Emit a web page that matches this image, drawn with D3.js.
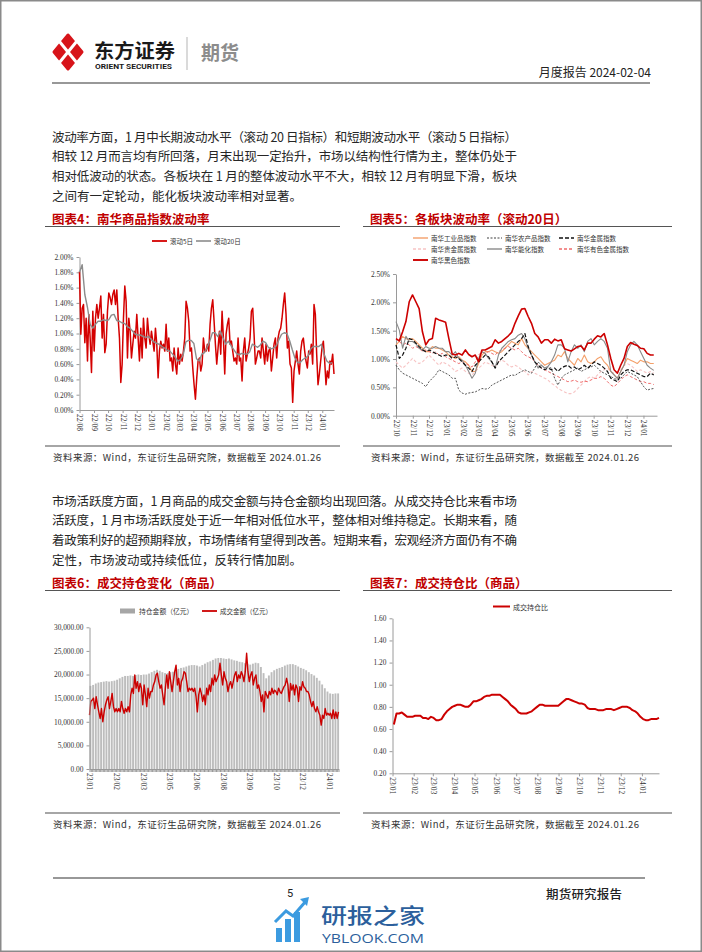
<!DOCTYPE html>
<meta charset="utf-8">
<head>
<script src="https://d3js.org/d3.v7.min.js"></script>
<style>
  body { margin: 0; background: #fff; }
  text { font-family: "Noto Sans CJK SC", sans-serif; }
  .axis text { font-family: "Liberation Serif", serif; font-size: 7.4px; fill: #333; }
  .axis path, .axis line { stroke: #9a9a9a; }
</style>
</head>
<body>
<div id="page"></div>
<script>

// ---- chart 4: 南华商品指数波动率 (%), 2022-08-01 .. 2024-01-26
var c4Start = "2022-08-01", c4End = "2024-01-26";
var vol5d = [1.81,0.99,1.33,1.38,0.88,1.20,0.64,1.25,0.94,0.49,
  1.29,0.77,1.20,1.38,1.20,1.33,1.49,0.94,1.25,0.75,
  0.86,1.29,1.53,1.47,1.38,1.51,1.57,1.38,1.57,1.20,
  0.94,0.36,0.60,1.20,1.62,1.42,0.68,1.20,1.03,0.68,
  0.86,1.03,0.94,1.25,0.94,0.64,1.07,0.68,1.20,0.94,
  0.81,1.20,0.99,0.86,1.03,0.90,0.77,1.07,0.86,0.42,
  0.77,0.90,0.81,0.86,0.77,1.12,0.77,0.94,0.64,0.68,
  0.51,0.81,0.60,0.47,0.81,0.60,0.73,0.64,0.77,0.94,
  1.42,1.33,1.16,0.77,0.81,0.55,0.33,0.14,0.42,0.64,
  0.68,0.51,0.60,0.94,0.77,0.77,0.86,0.77,1.12,1.33,
  1.44,1.16,0.86,0.60,0.81,1.03,0.73,1.29,0.94,0.47,
  0.99,1.12,1.20,0.86,0.90,0.77,0.64,0.68,0.60,0.94,
  0.64,0.68,0.38,0.77,0.94,0.64,0.73,0.81,0.94,1.29,
  1.33,0.99,0.60,0.68,0.77,0.77,0.68,0.94,0.77,0.60,
  0.86,0.64,0.77,0.81,0.51,0.68,0.86,0.94,0.68,0.94,
  1.03,1.07,1.20,1.38,1.53,1.25,0.81,0.90,0.60,0.55,
  0.10,0.51,0.64,0.77,0.60,0.47,0.77,0.90,0.94,0.77,
  0.64,0.55,0.77,0.73,0.86,0.60,1.38,1.25,0.73,0.33,
  0.47,0.64,0.81,0.90,0.64,0.33,0.51,0.42,0.64,0.60,
  0.73,0.47];
var vol20d = [1.80,1.90,1.51,1.34,1.12,1.07,1.12,1.16,1.16,1.18,
  1.17,1.18,1.24,1.25,1.17,1.16,1.14,1.13,1.09,1.07,
  1.03,0.99,0.98,0.98,0.96,0.95,0.96,0.92,0.89,0.87,
  0.86,0.83,0.81,0.78,0.77,0.73,0.69,0.64,0.66,0.72,
  0.89,0.91,0.91,0.87,0.67,0.64,0.73,0.75,0.82,0.90,
  1.01,1.01,0.96,1.03,0.94,0.86,0.90,0.84,0.79,0.74,
  0.72,0.74,0.73,0.73,0.76,0.86,0.84,0.82,0.85,0.90,
  0.88,0.82,0.80,0.81,0.84,0.92,0.99,1.01,1.00,0.91,
  0.79,0.68,0.62,0.62,0.66,0.68,0.71,0.80,0.83,0.83,
  0.83,0.86,0.73,0.64,0.61,0.62];

// ---- chart 5: 各板块波动率 (滚动20日, %), 2022-10-01 .. 2024-01-26
var c5Start = "2022-10-01", c5End = "2024-01-26";
var idxIndustrial = [1.25,1.31,1.40,1.36,1.34,1.36,1.31,1.25,1.19,1.13,
  1.13,1.22,1.19,1.19,1.16,1.13,1.07,1.04,1.01,1.04,
  0.98,0.95,0.89,0.78,0.78,0.92,1.07,1.13,1.13,1.16,
  1.13,1.10,1.13,1.19,1.25,1.31,1.28,1.25,1.36,1.25,
  1.19,1.13,1.07,1.01,0.95,0.89,0.92,0.95,0.98,1.07,
  1.04,1.13,1.01,0.95,0.89,1.01,0.95,1.07,0.95,0.92,
  0.95,1.01,1.04,0.95,0.89,0.78,0.72,0.66,0.78,0.89,
  1.01,0.98,0.95,0.92,0.98,0.95,0.95,0.92,0.92];
var idxAgri = [0.89,0.81,0.75,0.72,0.69,0.66,0.63,0.60,0.57,0.51,
  0.60,0.66,0.72,0.81,0.78,0.75,0.72,0.66,0.66,0.45,
  0.40,0.38,0.40,0.41,0.42,0.45,0.48,0.47,0.48,0.54,
  0.57,0.60,0.63,0.66,0.69,0.72,0.71,0.75,0.78,0.81,
  0.78,0.75,0.84,0.95,0.89,0.84,0.86,0.84,0.66,0.54,
  0.66,0.72,0.75,0.78,0.81,0.84,0.78,0.81,0.84,0.86,
  0.89,0.84,0.78,0.75,0.72,0.69,0.66,0.63,0.66,0.72,
  0.78,0.75,0.72,0.69,0.60,0.51,0.45,0.47,0.48];
var idxMetal = [1.25,1.01,1.07,1.19,1.36,1.34,1.28,1.22,1.16,1.13,
  1.16,1.13,1.10,1.07,1.04,1.07,1.07,1.01,1.04,1.01,
  0.95,0.89,0.84,0.78,0.89,0.95,1.01,1.07,1.04,0.95,
  0.84,0.95,1.01,1.07,1.13,1.19,1.25,1.31,1.36,1.45,
  1.22,1.07,0.95,0.89,0.84,0.81,0.84,0.81,0.84,0.78,
  0.84,0.87,0.89,0.84,0.86,0.81,0.84,0.89,0.84,0.89,
  0.95,0.92,0.89,0.84,0.78,0.66,0.63,0.60,0.72,0.78,
  0.81,0.81,0.78,0.75,0.72,0.69,0.69,0.75,0.72];
var idxPrecious = [0.95,0.89,0.84,0.89,0.95,1.01,0.95,0.92,0.95,1.01,
  1.07,1.01,0.95,0.89,0.95,0.92,0.89,0.84,0.78,0.81,
  0.84,0.78,0.75,0.72,0.78,0.84,0.89,0.95,0.92,0.89,
  0.86,0.95,0.98,0.95,0.89,0.86,0.89,0.86,0.81,0.78,
  0.72,0.78,0.75,0.72,0.69,0.66,0.63,0.57,0.54,0.48,
  0.45,0.42,0.39,0.39,0.42,0.48,0.54,0.60,0.66,0.69,
  0.66,0.72,0.78,0.81,0.84,0.78,0.75,0.78,0.81,0.89,
  0.92,0.89,0.84,0.78,0.81,0.78,0.75,0.78,0.75];
var idxEnergyChem = [1.66,1.51,1.19,1.40,1.31,1.31,1.27,1.19,1.16,1.22,
  1.19,1.19,1.22,1.19,1.19,1.13,1.13,1.07,1.13,1.01,
  0.98,0.89,0.78,0.66,0.75,1.01,1.13,1.10,1.01,0.95,
  0.84,1.07,1.19,1.25,1.31,1.34,1.36,1.42,1.45,1.36,
  1.19,1.07,0.95,0.84,0.89,0.84,0.87,0.95,1.07,1.25,
  1.25,1.19,0.95,1.13,1.25,1.19,1.25,1.13,1.31,1.36,
  1.25,1.31,1.36,1.31,1.19,0.78,0.72,0.66,0.78,0.89,
  1.13,1.25,1.31,1.25,1.13,1.01,0.89,0.84,0.80];
var idxNonferrous = [1.36,1.31,1.25,1.28,1.25,1.19,1.22,1.19,1.13,1.16,
  1.13,1.10,1.13,1.07,1.10,1.04,1.01,0.98,0.95,0.92,
  0.95,0.92,0.89,0.86,0.95,1.07,1.13,1.10,1.13,1.10,
  1.07,1.13,1.16,1.19,1.22,1.19,1.16,1.19,1.13,1.07,
  1.04,1.01,0.95,0.89,0.84,0.81,0.78,0.75,0.72,0.69,
  0.66,0.63,0.60,0.61,0.63,0.60,0.59,0.61,0.60,0.63,
  0.66,0.66,0.69,0.66,0.60,0.54,0.51,0.57,0.63,0.69,
  0.72,0.69,0.66,0.63,0.60,0.60,0.57,0.57,0.55];
var idxBlack = [1.36,1.32,1.48,1.66,2.01,2.13,2.01,1.89,1.48,1.25,
  1.34,1.36,1.72,1.69,1.67,1.65,1.36,1.09,1.07,1.10,
  1.07,1.16,1.08,1.04,1.07,0.95,1.16,1.16,1.19,1.22,
  1.34,1.28,1.31,1.36,1.41,1.47,1.63,1.76,1.88,1.89,
  1.75,1.63,1.45,1.39,1.28,1.34,1.34,1.28,1.35,1.32,
  1.34,1.18,1.16,1.14,1.18,1.22,1.23,1.16,1.28,1.28,
  1.35,1.41,1.39,1.45,1.25,1.01,0.81,0.75,0.89,1.01,
  1.22,1.29,1.26,1.24,1.19,1.18,1.10,1.07,1.07];
var c5Names = ["南华工业品指数","南华农产品指数","南华金属指数","南华贵金属指数","南华能化指数","南华有色金属指数","南华黑色指数"];

// ---- chart 6: 成交持仓变化 (亿元)
var c6Holdings = [17600,17800,18100,18300,18400,18500,18600,18500,18600,18700,
  18900,19200,19500,19700,19700,19800,19700,19900,20000,19900,
  20000,20000,20200,20500,20800,21000,20800,20500,20300,20300,
  20500,20600,20900,21200,21400,21500,21700,21900,22000,22000,
  21900,21700,22000,22300,22600,22800,23100,23400,23500,23500,
  23400,23300,23400,23200,23000,22900,22700,22600,22400,22300,
  22100,22300,22500,22400,21600,20300,19200,19800,20500,20900,
  21200,21400,21600,21900,22100,22200,22200,22000,21700,21400,
  21200,20900,20500,20100,19800,19300,18700,17900,17100,16400,
  16000,15900,16000,16000];
var c6Turnover = [11400,14300,14600,15000,12800,15300,13600,12100,10700,12800,
  10000,12100,13600,14600,15300,12800,14300,16000,13200,12100,
  12800,12100,12800,12100,14300,12800,11800,12800,12100,13200,
  12100,15700,17100,16000,19900,17100,18500,16400,18100,17100,
  13600,17800,15700,13200,17100,15000,16400,16400,17800,18500,
  19900,20300,18500,17100,17800,15700,13600,17100,19900,17100,
  20600,18500,16400,18500,20600,22000,17800,19200,16400,18500,
  19200,20600,20300,18500,16400,17100,16700,17100,16400,17100,
  15300,12100,15700,17100,16000,14300,15700,13600,17100,15700,
  17800,16400,19200,17800,19900,18500,19200,19900,22400,19900,
  17800,20600,19200,18500,16400,17800,18500,17100,18500,19900,
  20600,18500,19900,19200,20600,19900,18500,20600,24500,20600,
  18500,19900,20600,17800,19200,19900,17100,17800,16400,14300,
  15700,12100,16400,15700,15000,16400,15700,17100,16000,16700,
  16400,15700,17100,16400,16000,16700,17400,17800,19200,17800,
  14300,18100,16700,17800,15700,17800,17100,14300,17400,16700,
  18500,17400,17100,16400,16400,15700,14300,13200,14300,12800,
  12100,13200,12100,11400,9300,11400,10700,12800,11400,11800,
  11400,11800,10700,12500,10700,12100,10700,12100];
var c6Labels = ["23/01","23/02","23/03","23/05","23/06","23/08","23/09","23/10","23/12","24/01"];
var c6LabelEvery = 20;

// ---- chart 7: 成交持仓比, 2023-01-03 .. 2024-01-26
var c7Start = "2023-01-03", c7End = "2024-01-26";
var c7Ratio = [0.64,0.74,0.74,0.75,0.73,0.71,0.71,0.71,0.72,0.72,
  0.72,0.70,0.70,0.69,0.71,0.70,0.68,0.68,0.69,0.73,
  0.76,0.78,0.80,0.81,0.82,0.82,0.81,0.80,0.80,0.82,
  0.85,0.85,0.86,0.87,0.89,0.90,0.90,0.91,0.91,0.91,
  0.91,0.89,0.87,0.85,0.82,0.80,0.78,0.75,0.74,0.74,
  0.74,0.75,0.76,0.78,0.80,0.82,0.82,0.81,0.81,0.81,
  0.81,0.81,0.81,0.83,0.85,0.87,0.87,0.86,0.85,0.84,
  0.83,0.83,0.82,0.79,0.78,0.78,0.78,0.77,0.77,0.77,
  0.78,0.78,0.78,0.77,0.78,0.79,0.80,0.80,0.80,0.79,
  0.77,0.76,0.74,0.71,0.69,0.68,0.68,0.69,0.69,0.69,
  0.70];

var para1 = ["波动率方面，1 月中长期波动水平（滚动 20 日指标）和短期波动水平（滚动 5 日指标）",
  "相较 12 月而言均有所回落，月末出现一定抬升，市场以结构性行情为主，整体仍处于",
  "相对低波动的状态。各板块在 1 月的整体波动水平不大，相较 12 月有明显下滑，板块",
  "之间有一定轮动，能化板块波动率相对显著。"];
var para2 = ["市场活跃度方面，1 月商品的成交金额与持仓金额均出现回落。从成交持仓比来看市场",
  "活跃度，1 月市场活跃度处于近一年相对低位水平，整体相对维持稳定。长期来看，随",
  "着政策利好的超预期释放，市场情绪有望得到改善。短期来看，宏观经济方面仍有不确",
  "定性，市场波动或持续低位，反转行情加剧。"];
var sourceText = "资料来源：Wind，东证衍生品研究院，数据截至 2024.01.26";

var RED = "#cc0000";

var svg = d3.select("#page").append("svg")
    .attr("width", 702).attr("height", 952)
    .style("display", "block").style("background", "#fff");

// page frame
svg.append("rect").attr("x", 0.75).attr("y", 0.75).attr("width", 700.5).attr("height", 950.5)
  .attr("fill", "none").attr("stroke", "#8a8a8a").attr("stroke-width", 1.5);

// ---- header
var logo = svg.append("g").attr("transform", "translate(68,52)");
logo.append("path").attr("d", "M0,-17 L14,0 L0,17 L-14,0 Z")
  .attr("fill", "#d7141a").attr("stroke", "#d7141a").attr("stroke-width", 3).attr("stroke-linejoin", "round");
logo.append("line").attr("x1", -9).attr("y1", -11).attr("x2", 9).attr("y2", 11).attr("stroke", "#fff").attr("stroke-width", 3);
logo.append("line").attr("x1", 9).attr("y1", -11).attr("x2", -9).attr("y2", 11).attr("stroke", "#fff").attr("stroke-width", 3);

svg.append("text").attr("x", 94).attr("y", 49.5).attr("dominant-baseline", "central")
  .attr("font-size", 19).attr("font-weight", 700).attr("fill", "#1a1a1a")
  .attr("textLength", 81).attr("lengthAdjust", "spacingAndGlyphs").text("东方证券");
svg.append("text").attr("x", 95).attr("y", 67).attr("dominant-baseline", "central")
  .attr("font-size", 7).attr("font-weight", 700).attr("fill", "#1a1a1a")
  .style("font-family", "Roboto, sans-serif")
  .attr("textLength", 77).attr("lengthAdjust", "spacingAndGlyphs").text("ORIENT SECURITIES");
svg.append("line").attr("x1", 187).attr("x2", 187).attr("y1", 37).attr("y2", 70)
  .attr("stroke", "#b5b5b5").attr("stroke-width", 1);
svg.append("text").attr("x", 201).attr("y", 51).attr("dominant-baseline", "central")
  .attr("font-size", 19).attr("font-weight", 700).attr("fill", "#8c8c8c").text("期货");
svg.append("text").attr("x", 651).attr("y", 71).attr("dominant-baseline", "central")
  .attr("text-anchor", "end").attr("font-size", 12).attr("fill", "#222").text("月度报告 2024-02-04");
svg.append("line").attr("x1", 52).attr("x2", 650).attr("y1", 83).attr("y2", 83)
  .attr("stroke", "#333").attr("stroke-width", 1.2);

// ---- paragraphs
function paragraph(lines, y0) {
  lines.forEach(function(s, i) {
    var t = svg.append("text").attr("x", 52).attr("y", y0 + i * 19.7)
      .attr("dominant-baseline", "central").attr("font-size", 12.5).attr("fill", "#262626").text(s);
    if (i < lines.length - 1) t.attr("textLength", 465).attr("lengthAdjust", "spacing");
  });
}
paragraph(para1, 136);
paragraph(para2, 500);

// ---- chart frames: title, rules, source
function frame(x0, x1, yTitle, yBottom, title) {
  svg.append("text").attr("x", x0 + 7).attr("y", yTitle).attr("dominant-baseline", "central")
    .attr("font-size", 12.5).attr("font-weight", 700).attr("fill", "#c00000").text(title);
  svg.append("line").attr("x1", x0).attr("x2", x1).attr("y1", yTitle + 8.5).attr("y2", yTitle + 8.5)
    .attr("stroke", "#555").attr("stroke-width", 1);
  svg.append("line").attr("x1", x0).attr("x2", x1).attr("y1", yBottom).attr("y2", yBottom)
    .attr("stroke", "#888").attr("stroke-width", 1.3);
  svg.append("text").attr("x", x0 + 8).attr("y", yBottom + 11).attr("dominant-baseline", "central")
    .attr("font-size", 9.5).attr("fill", "#333")
    .attr("textLength", 268).attr("lengthAdjust", "spacing").text(sourceText);
}
frame(45, 340, 218, 446, "图表4：南华商品指数波动率");
frame(363, 672, 218, 446, "图表5：各板块波动率（滚动20日）");
frame(45, 340, 582, 813, "图表6：成交持仓变化（商品）");
frame(363, 672, 582, 813, "图表7：成交持仓比（商品）");

function spread(n, a, b) {
  var t0 = new Date(a + "T00:00:00").getTime(), t1 = new Date(b + "T00:00:00").getTime();
  return d3.range(n).map(function(i) { return new Date(t0 + (t1 - t0) * i / (n - 1)); });
}
function rotateLabels(g) {
  g.selectAll(".tick text").attr("transform", "rotate(90)").attr("x", 4).attr("y", 0)
    .attr("dy", "0.35em").style("text-anchor", "start");
}
function legendLine(x, y, color, width, dash, label) {
  svg.append("line").attr("x1", x).attr("x2", x + 15).attr("y1", y).attr("y2", y)
    .attr("stroke", color).attr("stroke-width", width).attr("stroke-dasharray", dash || null);
  svg.append("text").attr("x", x + 18).attr("y", y).attr("dominant-baseline", "central")
    .attr("font-size", 6.5).attr("fill", "#333").text(label);
}

// ---- chart 4
var x4 = d3.scaleTime().domain([new Date(c4Start + "T00:00:00"), new Date(c4End + "T00:00:00")]).range([79.5, 334]);
var y4 = d3.scaleLinear().domain([0, 2]).range([410, 257]);
svg.append("g").attr("class", "axis").attr("transform", "translate(79.5,0)")
  .call(d3.axisLeft(y4).tickValues(d3.range(0, 2.001, 0.2)).tickSize(3).tickSizeOuter(0)
    .tickFormat(function(d) { return d.toFixed(2) + "%"; }));
svg.append("g").attr("class", "axis").attr("transform", "translate(0,410)")
  .call(d3.axisBottom(x4).ticks(d3.timeMonth.every(1)).tickSize(3).tickSizeOuter(0)
    .tickFormat(d3.timeFormat("%y/%m")))
  .call(rotateLabels);
var d5 = spread(vol5d.length, c4Start, c4End), d20 = spread(vol20d.length, c4Start, "2024-01-22");
svg.append("path").datum(vol5d).attr("fill", "none").attr("stroke", "#d40000").attr("stroke-width", 1.5)
  .attr("stroke-linejoin", "round")
  .attr("d", d3.line().x(function(d, i) { return x4(d5[i]); }).y(function(d) { return y4(d); }));
svg.append("path").datum(vol20d).attr("fill", "none").attr("stroke", "#8c8c8c").attr("stroke-width", 1.4)
  .attr("stroke-linejoin", "round")
  .attr("d", d3.line().x(function(d, i) { return x4(d20[i]); }).y(function(d) { return y4(d); }));
legendLine(152, 241, "#d40000", 1.8, null, "滚动5日");
legendLine(196, 241, "#8c8c8c", 1.6, null, "滚动20日");

// ---- chart 5
var x5 = d3.scaleTime().domain([new Date(c5Start + "T00:00:00"), new Date(c5End + "T00:00:00")]).range([396, 657]);
var y5 = d3.scaleLinear().domain([0, 2.5]).range([415.7, 274]);
svg.append("g").attr("class", "axis").attr("transform", "translate(396,0)")
  .call(d3.axisLeft(y5).tickValues(d3.range(0, 2.501, 0.5)).tickSize(3).tickSizeOuter(0)
    .tickFormat(function(d) { return d.toFixed(2) + "%"; }));
svg.append("g").attr("class", "axis").attr("transform", "translate(0,415.7)")
  .call(d3.axisBottom(x5).ticks(d3.timeMonth.every(1)).tickSize(3).tickSizeOuter(0)
    .tickFormat(d3.timeFormat("%y/%m")))
  .call(rotateLabels);
var c5Series = [idxIndustrial, idxAgri, idxMetal, idxPrecious, idxEnergyChem, idxNonferrous, idxBlack];
var c5Style = [
  {c: "#f4a06a", w: 1.1, dash: null},
  {c: "#404040", w: 0.9, dash: "2,1.5"},
  {c: "#111111", w: 1.2, dash: "4,2"},
  {c: "#f7c4c4", w: 1.1, dash: "3,2"},
  {c: "#8a8a8a", w: 1.1, dash: null},
  {c: "#ef6b6b", w: 1.0, dash: "3,2"},
  {c: "#cc0000", w: 1.6, dash: null}
];
var d5x = spread(idxBlack.length, c5Start, "2024-01-20");
[3, 0, 5, 1, 4, 2, 6].forEach(function(k) {
  svg.append("path").datum(c5Series[k]).attr("fill", "none")
    .attr("stroke", c5Style[k].c).attr("stroke-width", c5Style[k].w)
    .attr("stroke-dasharray", c5Style[k].dash).attr("stroke-linejoin", "round")
    .attr("d", d3.line().x(function(d, i) { return x5(d5x[i]); }).y(function(d) { return y5(d); }));
});
var legPos = [[413, 238], [487, 238], [559, 238], [413, 249], [487, 249], [559, 249], [413, 260]];
c5Names.forEach(function(n, k) {
  legendLine(legPos[k][0], legPos[k][1], c5Style[k].c, c5Style[k].w + 0.3, c5Style[k].dash, n);
});

// ---- chart 6
var x6 = d3.scaleLinear().domain([0, c6Turnover.length - 1]).range([89.5, 338.5]);
var y6 = d3.scaleLinear().domain([0, 30000]).range([769, 627.3]);
svg.append("g").selectAll("rect").data(c6Holdings).enter().append("rect")
  .attr("x", function(d, j) { return x6(j * 2); })
  .attr("y", function(d) { return y6(d); })
  .attr("width", 1.9)
  .attr("height", function(d) { return y6(0) - y6(d); })
  .attr("fill", "#bdbdbd");
svg.append("path").datum(c6Turnover).attr("fill", "none").attr("stroke", RED).attr("stroke-width", 1.4)
  .attr("stroke-linejoin", "round")
  .attr("d", d3.line().x(function(d, i) { return x6(i); }).y(function(d) { return y6(d); }));
svg.append("g").attr("class", "axis").attr("transform", "translate(89.5,0)")
  .call(d3.axisLeft(y6).tickValues(d3.range(0, 30001, 5000)).tickSize(3).tickSizeOuter(0)
    .tickFormat(d3.format(",.2f")));
svg.append("g").attr("class", "axis").attr("transform", "translate(0,769)")
  .call(d3.axisBottom(x6).tickValues(d3.range(0, c6Turnover.length)).tickSize(3).tickSizeOuter(0)
    .tickFormat(function(i) { return i % c6LabelEvery === 0 ? (c6Labels[i / c6LabelEvery] || "") : ""; }))
  .call(rotateLabels);
svg.append("rect").attr("x", 120).attr("y", 608.5).attr("width", 15).attr("height", 5).attr("fill", "#a6a6a6");
svg.append("text").attr("x", 139).attr("y", 611).attr("dominant-baseline", "central")
  .attr("font-size", 6.8).attr("fill", "#333").text("持仓金额（亿元）");
legendLine(202, 611, RED, 1.8, null, "成交金额（亿元）");

// ---- chart 7
var x7 = d3.scaleTime().domain([new Date("2023-01-01T00:00:00"), new Date(c7End + "T00:00:00")]).range([392.5, 659]);
var y7 = d3.scaleLinear().domain([0.2, 1.6]).range([773.3, 618.3]);
svg.append("g").attr("class", "axis").attr("transform", "translate(392.5,0)")
  .call(d3.axisLeft(y7).tickValues(d3.range(0.2, 1.601, 0.2)).tickSize(3).tickSizeOuter(0)
    .tickFormat(d3.format(".2f")));
svg.append("g").attr("class", "axis").attr("transform", "translate(0,773.3)")
  .call(d3.axisBottom(x7).ticks(d3.timeMonth.every(1)).tickSize(3).tickSizeOuter(0)
    .tickFormat(d3.timeFormat("%y/%m")))
  .call(rotateLabels);
var d7 = spread(c7Ratio.length, c7Start, c7End);
svg.append("path").datum(c7Ratio).attr("fill", "none").attr("stroke", RED).attr("stroke-width", 2)
  .attr("stroke-linejoin", "round")
  .attr("d", d3.line().x(function(d, i) { return x7(d7[i]); }).y(function(d) { return y7(d); }));
svg.append("line").attr("x1", 493).attr("x2", 510).attr("y1", 606.5).attr("y2", 606.5)
  .attr("stroke", RED).attr("stroke-width", 2);
svg.append("text").attr("x", 513).attr("y", 606.5).attr("dominant-baseline", "central")
  .attr("font-size", 7).attr("fill", "#333").text("成交持仓比");

// ---- footer
svg.append("line").attr("x1", 53).attr("x2", 645).attr("y1", 878).attr("y2", 878)
  .attr("stroke", "#333").attr("stroke-width", 1.2);
svg.append("text").attr("x", 287).attr("y", 893).attr("dominant-baseline", "central")
  .attr("font-size", 11).attr("fill", "#222").style("font-family", "Roboto, sans-serif").text("5");
svg.append("text").attr("x", 546).attr("y", 893).attr("dominant-baseline", "central")
  .attr("font-size", 12.5).attr("font-weight", 500).attr("fill", "#222").attr("textLength", 76).text("期货研究报告");

// watermark
var wm = svg.append("g");
[[276, 928, 6, 14], [285, 919, 6, 23], [294, 912, 6, 30]].forEach(function(b) {
  wm.append("rect").attr("x", b[0]).attr("y", b[1]).attr("width", b[2]).attr("height", b[3]).attr("fill", "#3c9be0");
});
wm.append("path").attr("d", "M275,922 L286,911 L293,916 L306,901").attr("fill", "none")
  .attr("stroke", "#3c9be0").attr("stroke-width", 3);
wm.append("path").attr("d", "M300,899 L309,897 L307,906 Z").attr("fill", "#3c9be0");
wm.append("text").attr("x", 321).attr("y", 913.5).attr("dominant-baseline", "central")
  .attr("font-size", 21).attr("font-weight", 500).attr("fill", "#2c5f9c")
  .attr("textLength", 104).attr("lengthAdjust", "spacingAndGlyphs").text("研报之家");
wm.append("text").attr("x", 322).attr("y", 938).attr("dominant-baseline", "central")
  .attr("font-size", 12).attr("fill", "#2c5f9c").style("font-family", "\"Open Sans\", sans-serif")
  .attr("textLength", 102).attr("lengthAdjust", "spacingAndGlyphs").text("YBLOOK.COM");

</script>
</body>
